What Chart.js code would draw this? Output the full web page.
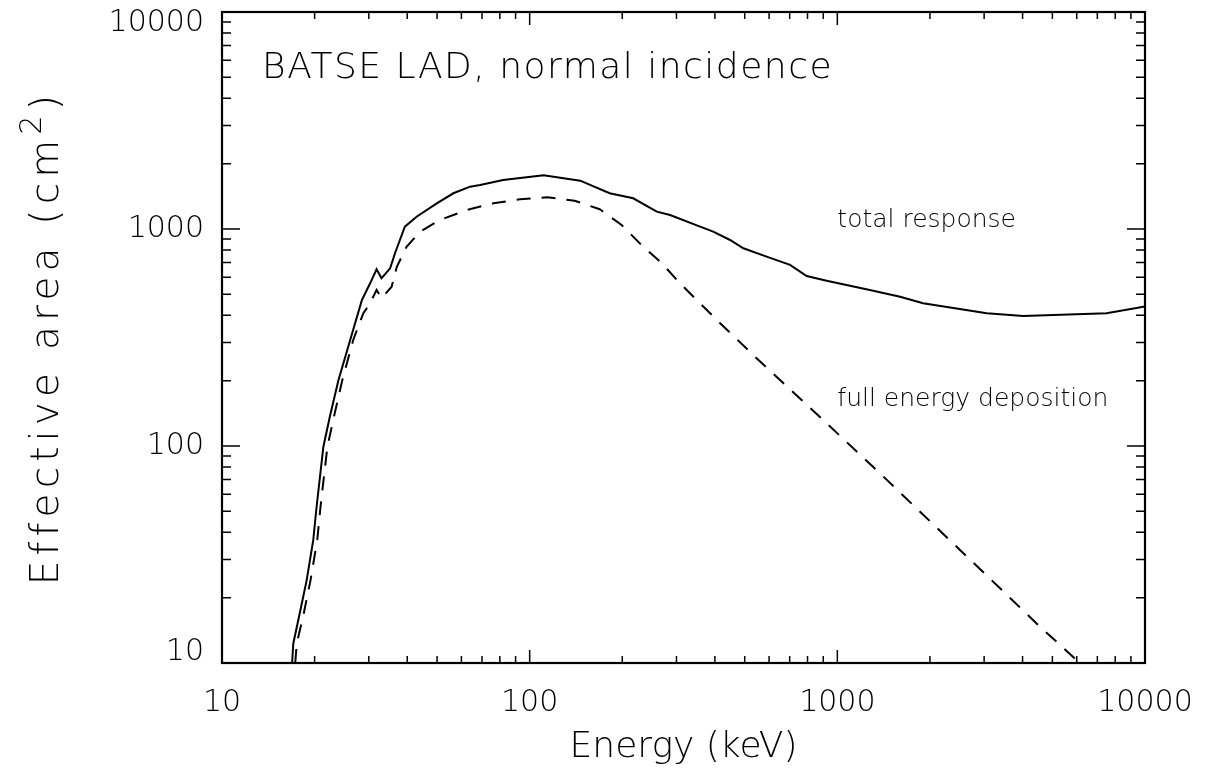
<!DOCTYPE html>
<html>
<head>
<meta charset="utf-8">
<title>BATSE LAD effective area</title>
<script src="https://cdn.jsdelivr.net/npm/chart.js@4.4.1/dist/chart.umd.min.js"></script>
<style>
  html, body { margin: 0; padding: 0; background: #fff; }
  canvas { display: block; }
</style>
</head>
<body>
<canvas id="chart" width="1213" height="775"></canvas>
<script>
// Total response: energy (keV) and effective area (cm^2)
const totalEnergy = [16.9, 17.05, 17.9, 18.85, 19.8, 20.3, 21.35, 22.4, 23.9, 26.1, 28.5, 30.3, 31.8, 33.0, 35.2, 36.5, 39.3, 42.9, 49.9, 56.5, 64, 69, 82, 111, 146, 182, 217, 259, 286, 358, 395, 448, 495, 589, 702, 795, 923, 1275, 1600, 1900, 3060, 4020, 7500, 10000];
const totalArea   = [10, 12.3, 17, 24.1, 36.9, 52.5, 99, 136, 201, 308, 471, 562, 652, 593, 659, 773, 1025, 1139, 1313, 1461, 1567, 1595, 1682, 1768, 1670, 1461, 1385, 1202, 1160, 1025, 972, 890, 815, 746, 683, 607, 578, 524, 487, 455, 409, 397, 409, 439];

// Full energy deposition (photopeak) response
const fullEnergy = [17.3, 17.5, 18.45, 19.4, 20.4, 20.9, 22.0, 23.1, 24.6, 26.7, 28.8, 30.3, 31.8, 33.0, 35.6, 37.0, 39.8, 44.0, 51.1, 62.4, 76.2, 93, 114, 140, 169, 199, 231, 269, 308, 416, 561, 878, 1376, 1857, 2504, 3379, 4557, 6000, 6100];
const fullArea   = [10, 12.3, 17, 24.1, 36.9, 52.5, 99, 136, 201, 308, 409, 455, 524, 480, 542, 670, 828, 972, 1100, 1224, 1313, 1371, 1400, 1350, 1233, 1043, 843, 695, 562, 368, 245, 136, 74.8, 49.8, 33.2, 22.1, 14.7, 10.3, 10];

// Decade tick labels on both axes
const xTicks = [10, 100, 1000, 10000];
const yTicks = [10, 100, 1000, 10000];

const FONT = '"DejaVu Sans", "Liberation Sans", sans-serif';
const W = 1213, H = 775;
const AREA = { left: 222, right: 1145, top: 12, bottom: 663 };

const toPoints = (xs, ys) => xs.map((v, i) => ({ x: v, y: ys[i] }));

// Boxed frame with inward log ticks on all four sides, in-plot captions,
// and the y-axis title with a raised exponent
const framePlugin = {
  id: 'frame',
  afterDatasetsDraw(chart, args, opts) {
    const { ctx, chartArea: a, scales: { x, y } } = chart;
    ctx.save();
    ctx.strokeStyle = '#000';
    ctx.lineWidth = 2.2;
    ctx.strokeRect(a.left, a.top, a.right - a.left, a.bottom - a.top);
    ctx.lineWidth = 1.5;
    ctx.beginPath();
    for (let d = 1; d < 4; d++) {
      for (let m = 1; m < 10; m++) {
        const v = m * Math.pow(10, d);
        const px = x.getPixelForValue(v);
        const lx = m === 1 ? 13 : 7;
        ctx.moveTo(px, a.bottom); ctx.lineTo(px, a.bottom - lx);
        ctx.moveTo(px, a.top);    ctx.lineTo(px, a.top + lx);
        const py = y.getPixelForValue(v);
        const ly = m === 1 ? 18 : 9;
        ctx.moveTo(a.left, py);  ctx.lineTo(a.left + ly, py);
        ctx.moveTo(a.right, py); ctx.lineTo(a.right - ly, py);
      }
    }
    ctx.stroke();

    ctx.fillStyle = '#000';
    ctx.textAlign = 'left';
    ctx.textBaseline = 'middle';
    for (const n of opts.notes) {
      ctx.font = `${opts.weight} ${n.size}px ${FONT}`;
      ctx.letterSpacing = (n.spacing || 0) + 'px';
      ctx.fillText(n.text, x.getPixelForValue(n.x), y.getPixelForValue(n.y));
    }

    // y-axis title: "Effective area (cm" + superscript "2" + ")"
    const t = opts.yTitle;
    ctx.letterSpacing = t.spacing + 'px';
    ctx.font = `${opts.weight} ${t.size}px ${FONT}`;
    const wMain = ctx.measureText(t.main).width;
    const wClose = ctx.measureText(t.close).width;
    ctx.font = `${opts.weight} ${t.supSize}px ${FONT}`;
    const wSup = ctx.measureText(t.sup).width;
    const total = wMain + wSup + wClose;
    ctx.translate(t.x, (a.top + a.bottom) / 2 + total / 2);
    ctx.rotate(-Math.PI / 2);
    ctx.font = `${opts.weight} ${t.size}px ${FONT}`;
    ctx.fillText(t.main, 0, 0);
    ctx.fillText(t.close, wMain + wSup, 0);
    ctx.font = `${opts.weight} ${t.supSize}px ${FONT}`;
    ctx.fillText(t.sup, wMain, -t.raise);
    ctx.restore();
  }
};

const endShift = c => (c.tick && (c.tick.value === yTicks[0] || c.tick.value === yTicks[yTicks.length - 1])) ? '22px' : 1.2;

new Chart(document.getElementById('chart'), {
  type: 'scatter',
  data: {
    datasets: [
      {
        label: 'total response',
        data: toPoints(totalEnergy, totalArea),
        showLine: true,
        borderColor: '#000',
        borderWidth: 2,
        pointRadius: 0,
        tension: 0
      },
      {
        label: 'full energy deposition',
        data: toPoints(fullEnergy, fullArea),
        showLine: true,
        borderColor: '#000',
        borderWidth: 2,
        borderDash: [14, 11],
        pointRadius: 0,
        tension: 0
      }
    ]
  },
  options: {
    responsive: false,
    animation: false,
    events: [],
    layout: { padding: { left: 0, right: W - AREA.right, top: AREA.top, bottom: 0 } },
    plugins: {
      legend: { display: false },
      tooltip: { enabled: false },
      frame: {
        weight: 200,
        notes: [
          { text: 'BATSE LAD, normal incidence', x: 13.5, y: 5500, size: 36, spacing: 1.5 },
          { text: 'total response', x: 1000, y: 1100, size: 25 },
          { text: 'full energy deposition', x: 1000, y: 163, size: 25 }
        ],
        yTitle: { main: 'Effective area (cm', sup: '2', close: ')', x: 48, size: 39, supSize: 30, raise: 15, spacing: 5.2 }
      }
    },
    scales: {
      x: {
        type: 'logarithmic',
        position: 'bottom',
        min: 10,
        max: 10000,
        grid: { display: false },
        border: { display: false },
        afterBuildTicks: s => { s.ticks = xTicks.map(v => ({ value: v })); },
        afterFit: s => {
          s.height = H - AREA.bottom;
          s.paddingLeft = 0; s.paddingRight = 0;
        },
        ticks: {
          autoSkip: false,
          maxRotation: 0,
          padding: 14,
          color: '#000',
          font: { family: FONT, size: 30, weight: 200 },
          callback: v => String(v)
        },
        title: {
          display: true,
          text: 'Energy (keV)',
          color: '#000',
          font: { family: FONT, size: 36, weight: 200 },
          padding: { top: 0, bottom: 6 }
        }
      },
      y: {
        type: 'logarithmic',
        position: 'left',
        min: 10,
        max: 10000,
        grid: { display: false },
        border: { display: false },
        afterBuildTicks: s => { s.ticks = yTicks.map(v => ({ value: v })); },
        afterFit: s => {
          s.width = AREA.left;
          s.paddingTop = 0; s.paddingBottom = 0;
        },
        ticks: {
          autoSkip: false,
          padding: 10,
          color: '#000',
          font: c => ({ family: FONT, size: 30, weight: 200, lineHeight: endShift(c) }),
          callback: v => v === yTicks[yTicks.length - 1] ? ['', String(v)]
                       : v === yTicks[0] ? [String(v), ''] : String(v)
        },
        title: { display: false }
      }
    }
  },
  plugins: [framePlugin]
});
</script>
</body>
</html>
